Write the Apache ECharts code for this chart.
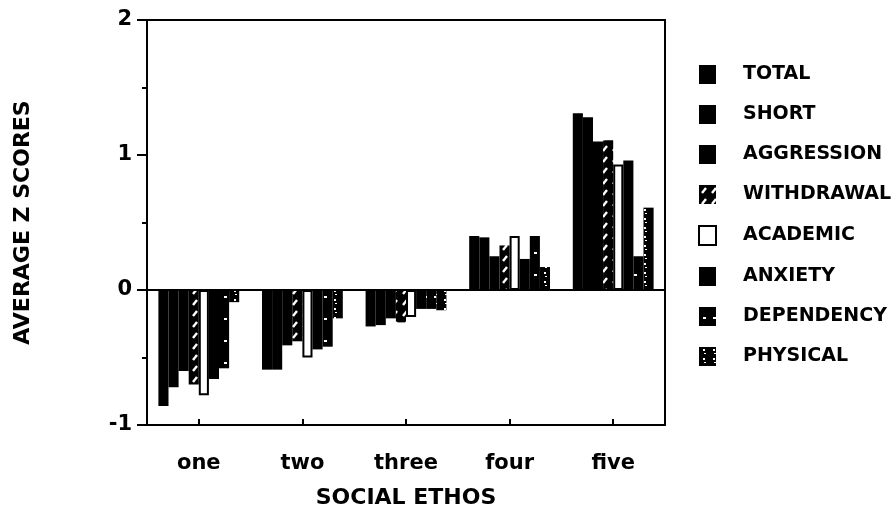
<!DOCTYPE html>
<html>
<head>
<meta charset="utf-8">
<script src="https://cdn.jsdelivr.net/npm/echarts@6/dist/echarts.min.js"></script>
<style>
html,body{margin:0;padding:0;background:#fff;}
#chart{width:892px;height:517px;}
</style>
</head>
<body>
<div id="chart"></div>
<script>
const categories = ['one', 'two', 'three', 'four', 'five'];
const yTicks = [-1, 0, 1, 2];
const seriesNames = ['TOTAL', 'SHORT', 'AGGRESSION', 'WITHDRAWAL', 'ACADEMIC', 'ANXIETY', 'DEPENDENCY', 'PHYSICAL'];
const total      = [-0.86, -0.59, -0.27, 0.40, 1.31];
const shortS     = [-0.72, -0.59, -0.26, 0.39, 1.28];
const aggression = [-0.60, -0.41, -0.21, 0.25, 1.10];
const withdrawal = [-0.70, -0.38, -0.24, 0.33, 1.11];
const academic   = [-0.78, -0.50, -0.20, 0.40, 0.93];
const anxiety    = [-0.66, -0.44, -0.14, 0.23, 0.96];
const dependency = [-0.58, -0.42, -0.14, 0.40, 0.25];
const physical   = [-0.09, -0.21, -0.15, 0.17, 0.61];
const values = [total, shortS, aggression, withdrawal, academic, anxiety, dependency, physical];

function pattern(w, h, draw) {
  const c = document.createElement('canvas');
  c.width = w; c.height = h;
  const ctx = c.getContext('2d');
  ctx.fillStyle = '#000';
  ctx.fillRect(0, 0, w, h);
  ctx.strokeStyle = '#fff';
  ctx.fillStyle = '#fff';
  draw(ctx);
  return {image: c, repeat: 'repeat'};
}
const hatch = pattern(10, 11, ctx => {
  ctx.lineWidth = 2.4;
  ctx.beginPath(); ctx.moveTo(3, 8); ctx.lineTo(7, 3); ctx.stroke();
});
const dashes = pattern(10, 22, ctx => {
  ctx.fillRect(4, 10, 3, 2);
});
const cross = pattern(10, 9, ctx => {
  ctx.fillRect(4, 2, 2, 2);
  ctx.fillRect(5, 6, 2, 1);
});

const styles = [
  {color: '#000'},
  {color: '#000'},
  {color: '#000'},
  {color: hatch},
  {color: '#fff', borderColor: '#000', borderWidth: 2},
  {color: '#000'},
  {color: dashes},
  {color: cross}
];

const font = 'DejaVu Sans';
const series = seriesNames.map((n, i) => {
  const s = {
    name: n,
    type: 'bar',
    data: values[i],
    barGap: '0%',
    barCategoryGap: '22%',
    itemStyle: styles[i],
    emphasis: {disabled: true}
  };
  if (i === 0) {
    s.markLine = {
      silent: true,
      symbol: 'none',
      label: {show: false},
      lineStyle: {color: '#000', width: 2, type: 'solid'},
      data: [{yAxis: 0}]
    };
  }
  return s;
});

const chart = echarts.init(document.getElementById('chart'));
chart.setOption({
  animation: false,
  backgroundColor: '#fff',
  grid: {left: 147, right: 227, top: 20, bottom: 92, show: true, borderColor: '#000', borderWidth: 2},
  legend: {
    orient: 'vertical',
    left: 693,
    top: 60,
    itemWidth: 17,
    itemHeight: 19,
    itemGap: 21,
    icon: 'rect',
    data: seriesNames,
    textStyle: {fontFamily: font, fontWeight: 'bold', fontSize: 19, color: '#000', padding: [0, 0, 0, 22]}
  },
  xAxis: {
    type: 'category',
    data: categories,
    axisLine: {onZero: false, lineStyle: {color: '#000', width: 2}},
    axisTick: {show: true, alignWithLabel: true, inside: true, length: 6, lineStyle: {color: '#000', width: 2}},
    axisLabel: {fontFamily: font, fontWeight: 'bold', fontSize: 21, color: '#000', margin: 28},
    name: 'SOCIAL ETHOS',
    nameLocation: 'middle',
    nameGap: 62,
    nameTextStyle: {fontFamily: font, fontWeight: 'bold', fontSize: 22, color: '#000'}
  },
  yAxis: {
    type: 'value',
    min: yTicks[0],
    max: yTicks[yTicks.length - 1],
    interval: 1,
    splitLine: {show: false},
    axisLine: {show: true, lineStyle: {color: '#000', width: 2}},
    axisTick: {show: true, length: 10, lineStyle: {color: '#000', width: 2}},
    minorTick: {show: true, splitNumber: 2, length: 5, lineStyle: {color: '#000', width: 2}},
    axisLabel: {fontFamily: font, fontWeight: 'bold', fontSize: 21, color: '#000', margin: 15},
    name: 'AVERAGE Z SCORES',
    nameLocation: 'middle',
    nameGap: 113,
    nameRotate: 90,
    nameTextStyle: {fontFamily: font, fontWeight: 'bold', fontSize: 22, color: '#000'}
  },
  series: series
});
</script>
</body>
</html>
